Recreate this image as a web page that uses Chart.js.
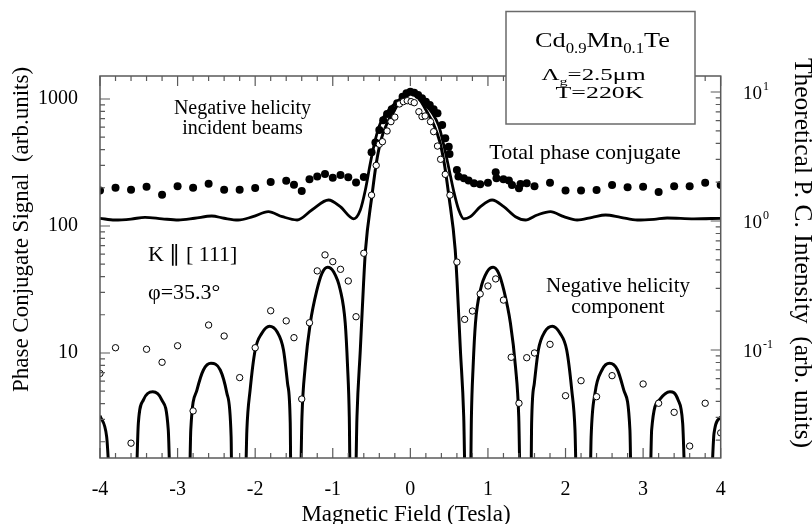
<!DOCTYPE html>
<html><head><meta charset="utf-8">
<script src="https://cdn.jsdelivr.net/npm/chart.js@4.4.1/dist/chart.umd.min.js"></script>
<style>html,body{margin:0;padding:0;background:#fff}#wrap{width:812px;height:524px;position:relative}</style>
</head><body><div id="wrap"><canvas id="c" width="812" height="524"></canvas></div>
<script>
// ---- data ----
const totalField = [-4.0,-3.8,-3.6,-3.4,-3.2,-3.0,-2.8,-2.6,-2.4,-2.2,-2.0,-1.8,-1.6,-1.5,-1.4,-1.3,-1.2,-1.1,-1.0,-0.9,-0.8,-0.7,-0.6,-0.5,-0.45,-0.4,-0.35,-0.3,-0.24,-0.17,-0.1,-0.05,0,0.05,0.1,0.15,0.2,0.25,0.3,0.35,0.41,0.45,0.495,0.505,0.6,0.62,0.69,0.75,0.82,0.9,1.0,1.1,1.11,1.2,1.27,1.31,1.4,1.42,1.5,1.6,1.8,2.0,2.2,2.4,2.6,2.8,3.0,3.2,3.4,3.6,3.8,4.0];
const totalSignal = [190,200,193,204,176,206,200,215,193,193,199,222,227,211,189,233,245,257,240,252,242,220,243,380,455,570,680,760,830,925,1040,1109,1141,1120,1075,1013,953,897,830,772,624,490,421,369,276,245,238,228,217,213,219,265,238,233,228,210,198,214,217,206,219,190,190,192,210,202,204,185,206,206,219,210];

const negField = [-4.0,-3.8,-3.6,-3.4,-3.2,-3.0,-2.8,-2.6,-2.4,-2.2,-2.0,-1.8,-1.6,-1.5,-1.4,-1.3,-1.2,-1.1,-1.0,-0.9,-0.8,-0.7,-0.6,-0.5,-0.44,-0.4,-0.36,-0.3,-0.25,-0.2,-0.14,-0.09,-0.04,0.01,0.05,0.11,0.15,0.19,0.26,0.3,0.35,0.39,0.45,0.51,0.6,0.7,0.8,0.9,1.0,1.1,1.2,1.3,1.4,1.5,1.6,1.8,2.0,2.2,2.4,2.6,3.0,3.2,3.4,3.6,3.8,4.0];
const negSignal = [6.9,11.0,1.95,10.7,8.45,11.4,3.5,16.6,13.6,6.4,11.0,21.5,17.9,13.2,4.34,17.3,44.3,59.2,52.4,45.6,36.9,19.3,61,175,300,440,461,560,663,720,914,953,970,953,935,794,727,735,663,553,426,335,255,175,52,18.4,21.4,29.2,33.7,38.3,26.1,9.25,4.02,9.18,10.0,11.7,4.61,6.05,4.53,6.63,5.7,4.02,3.41,1.85,4.02,2.35];

const theoryTotalField = [-4.0,-3.81,-3.6,-3.42,-3.2,-2.99,-2.78,-2.56,-2.4,-2.22,-2.03,-1.83,-1.65,-1.46,-1.27,-1.054,-0.903,-0.73,-0.645,-0.58,-0.516,-0.452,-0.387,-0.28,-0.172,-0.065,0,0.065,0.17,0.28,0.365,0.43,0.494,0.559,0.623,0.688,0.774,0.903,1.054,1.204,1.355,1.484,1.635,1.806,1.978,2.15,2.345,2.516,2.71,2.925,3.14,3.31,3.655,4.0];
const theoryTotal = [1.049,1.018,1.035,1.068,1.04,1.018,1.05,1.093,1.05,1.018,1.08,1.181,1.08,1.018,1.217,1.455,1.29,1.04,1.217,1.74,2.80,4.25,5.72,7.25,8.41,9.48,10.0,9.4,8.2,6.9,5.5,3.9,2.6,1.7,1.22,1.04,1.08,1.29,1.455,1.29,1.08,1.018,1.113,1.181,1.08,1.018,1.068,1.113,1.068,1.018,1.031,1.055,1.04,1.049];

const theoryNegField = [-4.0,-3.914,-3.86,-3.54,-3.506,-3.44,-3.32,-3.204,-3.12,-3.09,-2.85,-2.83,-2.75,-2.667,-2.57,-2.45,-2.365,-2.31,-2.30,-2.129,-2.107,-2.065,-2.0,-1.914,-1.815,-1.72,-1.635,-1.583,-1.548,-1.539,-1.419,-1.397,-1.355,-1.29,-1.204,-1.139,-1.067,-0.99,-0.903,-0.839,-0.809,-0.787,-0.774,-0.71,-0.688,-0.645,-0.603,-0.578,-0.494,-0.439,-0.378,-0.30,-0.215,-0.129,-0.05,0,0.05,0.129,0.215,0.30,0.378,0.439,0.494,0.578,0.603,0.645,0.688,0.71,0.774,0.787,0.809,0.839,0.903,0.99,1.067,1.139,1.204,1.29,1.355,1.397,1.419,1.554,1.563,1.598,1.65,1.735,1.83,1.929,2.015,2.08,2.122,2.144,2.314,2.33,2.38,2.47,2.568,2.67,2.75,2.83,2.848,3.088,3.11,3.21,3.346,3.45,3.51,3.548,3.87,3.914,4.0];
const theoryNeg = [0.031,0.0212,0.008,0.008,0.027,0.0411,0.0475,0.0411,0.024,0.008,0.008,0.024,0.049,0.07,0.0788,0.07,0.0463,0.0212,0.008,0.008,0.024,0.049,0.1,0.135,0.153,0.139,0.1,0.0552,0.027,0.008,0.008,0.0304,0.0742,0.161,0.292,0.393,0.438,0.405,0.292,0.161,0.0742,0.0304,0.008,0.008,0.0304,0.1,0.329,0.596,1.59,2.80,4.25,5.72,7.03,8.67,9.7,10.0,9.7,8.6,7.0,5.6,4.15,2.75,1.6,0.6,0.33,0.1,0.0304,0.008,0.008,0.0304,0.0742,0.161,0.292,0.405,0.438,0.393,0.292,0.161,0.0742,0.0304,0.008,0.008,0.027,0.0552,0.1,0.139,0.153,0.135,0.1,0.049,0.024,0.008,0.008,0.0212,0.0463,0.07,0.0788,0.07,0.049,0.024,0.008,0.008,0.024,0.0411,0.0475,0.0411,0.027,0.008,0.008,0.0226,0.0304];

const xTickLabels = [-4,-3,-2,-1,0,1,2,3,4];
const leftTickLabels = [10,100,1000];
const rightTickValues = [0.1,1,10];
const rightTickExponents = ['-1','0','1'];

// ---- helpers ----
const SERIF = '"Liberation Serif","Times New Roman",serif';
const AXIS_COLOR = '#5a5a5a';
function pts(xs, ys){ return xs.map((x,i)=>({x:x, y:ys[i]})); }

const decorPlugin = {
  id: 'decor',
  afterDraw(chart){
    const ctx = chart.ctx;
    const {left,right,top,bottom} = chart.chartArea;
    const xs = chart.scales.x, ys = chart.scales.y, y2 = chart.scales.y2;
    ctx.save();
    ctx.strokeStyle = AXIS_COLOR; ctx.lineWidth = 1.5;
    ctx.strokeRect(left, top, right-left, bottom-top);
    ctx.lineWidth = 1.2;
    ctx.beginPath();
    for (let i=-20;i<=20;i++){
      const px = xs.getPixelForValue(i/5);
      const L = (i%5===0) ? 10 : 5;
      ctx.moveTo(px, bottom); ctx.lineTo(px, bottom-L);
      ctx.moveTo(px, top); ctx.lineTo(px, top+L);
    }
    [1,10,100,1000].forEach(d=>{
      for (let m=1;m<=9;m++){
        const v = m*d; if (v<ys.min || v>ys.max) continue;
        const py = ys.getPixelForValue(v); const L = m===1?10:5;
        ctx.moveTo(left, py); ctx.lineTo(left+L, py);
      }
    });
    [0.01,0.1,1,10].forEach(d=>{
      for (let m=1;m<=9;m++){
        const v = m*d; if (v<y2.min || v>y2.max) continue;
        const py = y2.getPixelForValue(v); const L = m===1?10:5;
        ctx.moveTo(right, py); ctx.lineTo(right-L, py);
      }
    });
    ctx.stroke();

    ctx.fillStyle = '#000';
    rightTickValues.forEach((v,i)=>{
      const py = y2.getPixelForValue(v);
      ctx.font = '19px ' + SERIF; ctx.textAlign='left'; ctx.textBaseline='alphabetic';
      ctx.fillText('10', 743, py + 7);
      const w = ctx.measureText('10').width;
      ctx.font = '12px ' + SERIF;
      ctx.fillText(rightTickExponents[i], 743 + w + 1, py - 2);
    });

    ctx.font = '23px ' + SERIF; ctx.textAlign='center'; ctx.textBaseline='alphabetic';
    ctx.save(); ctx.translate(28, 229.5); ctx.rotate(-Math.PI/2);
    ctx.fillText('Phase Conjugate Signal  (arb.units)', 0, 0); ctx.restore();
    ctx.save(); ctx.translate(795, 253); ctx.rotate(Math.PI/2);
    ctx.font = '25.5px ' + SERIF;
    ctx.fillText('Theoretical P. C. Intensity  (arb. units)', 0, 0); ctx.restore();
    ctx.font = '23px ' + SERIF;
    ctx.fillText('Magnetic Field (Tesla)', 406, 521);

    ctx.font = '20px ' + SERIF; ctx.textAlign='center';
    ctx.fillText('Negative helicity', 242.5, 113.5);
    ctx.fillText('incident beams', 242.5, 134);
    ctx.font = '22px ' + SERIF;
    ctx.fillText('Total phase conjugate', 585, 159);
    ctx.font = '21px ' + SERIF;
    ctx.fillText('Negative helicity', 618, 291.5);
    ctx.fillText('component', 618, 313);
    ctx.font = '22px ' + SERIF; ctx.textAlign='left';
    ctx.fillText('K \u2225 [ 111]', 148, 261);
    ctx.fillText('\u03C6=35.3\u00B0', 148, 299);

    ctx.fillStyle = '#fff'; ctx.fillRect(506, 11.5, 189, 112.5);
    ctx.strokeStyle = '#6a6a6a'; ctx.lineWidth = 1.5; ctx.strokeRect(506, 11.5, 189, 112.5);
    ctx.fillStyle = '#000';
    function drawParts(parts, cx, base, targetW){
      let w = 0; parts.forEach(p=>{ ctx.font = p[1]+'px '+SERIF; w += ctx.measureText(p[0]).width; });
      const sx = targetW / w;
      ctx.save(); ctx.translate(cx - targetW/2, base); ctx.scale(sx,1);
      ctx.textAlign='left'; let x = 0;
      parts.forEach(p=>{ ctx.font = p[1]+'px '+SERIF; ctx.fillText(p[0], x, p[2]); x += ctx.measureText(p[0]).width; });
      ctx.restore();
    }
    drawParts([['Cd',22,0],['0.9',14,6],['Mn',22,0],['0.1',14,6],['Te',22,0]], 602.5, 47, 135);
    drawParts([['\u039B',17,0],['g',11,5],['=2.5\u03BCm',17,0]], 593.5, 79.5, 104);
    drawParts([['T=220K',17,0]], 599.5, 97.5, 88);
    ctx.restore();
  }
};

new Chart(document.getElementById('c'), {
  type: 'scatter',
  data: {
    datasets: [
      { label:'Negative helicity component (exp.)', data: pts(negField, negSignal), yAxisID:'y',
        pointRadius:3.2, pointBackgroundColor:'#fff', pointBorderColor:'#000', pointBorderWidth:1, showLine:false },
      { label:'Total phase conjugate (exp.)', data: pts(totalField, totalSignal), yAxisID:'y',
        pointRadius:4, pointBackgroundColor:'#000', pointBorderWidth:0, showLine:false },
      { label:'Negative helicity component (theory)', data: pts(theoryNegField, theoryNeg), yAxisID:'y2',
        showLine:true, pointRadius:0, borderColor:'#000', borderWidth:3, cubicInterpolationMode:'monotone' },
      { label:'Total phase conjugate (theory)', data: pts(theoryTotalField, theoryTotal), yAxisID:'y2',
        showLine:true, pointRadius:0, borderColor:'#000', borderWidth:2.8, cubicInterpolationMode:'monotone' }
    ]
  },
  options: {
    responsive:false, animation:false, devicePixelRatio:1, events:[],
    layout:{ padding:{ left:0, right:91.3, top:76, bottom:0 } },
    plugins:{ legend:{display:false}, tooltip:{enabled:false} },
    scales:{
      x:{ type:'linear', position:'bottom', min:-4, max:4,
          afterBuildTicks:(s)=>{ s.ticks = xTickLabels.map(v=>({value:v})); },
          afterFit:(s)=>{ s.height = 66; },
          grid:{ display:false, drawTicks:false }, border:{ display:false },
          ticks:{ color:'#000', padding:19.5, maxRotation:0, font:{ family:SERIF, size:20 }, callback:(v)=>String(v) } },
      y:{ type:'logarithmic', position:'left', min:1.49, max:1517,
          afterBuildTicks:(s)=>{ s.ticks = leftTickLabels.map(v=>({value:v})); },
          afterFit:(s)=>{ s.width = 100; },
          grid:{ display:false, drawTicks:false }, border:{ display:false },
          ticks:{ color:'#000', padding:22, font:{ family:SERIF, size:20 }, callback:(v)=>String(v) } },
      y2:{ type:'logarithmic', position:'right', min:0.01455, max:13.3, display:false }
    }
  },
  plugins:[decorPlugin]
});
</script></body></html>
